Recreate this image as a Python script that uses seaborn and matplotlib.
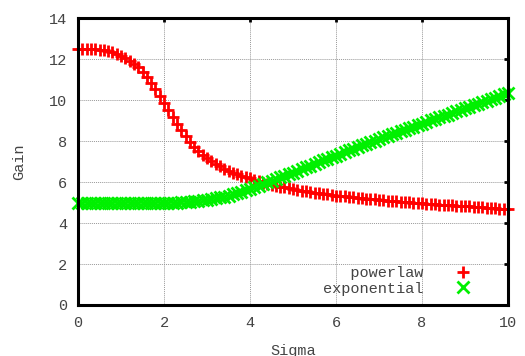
import matplotlib
matplotlib.use("Agg")
import matplotlib.pyplot as plt
import numpy as np
import pandas as pd
import seaborn as sns

# sigma from 0 to 10, one sample every 0.1
sigma = [round(i * 0.1, 1) for i in range(101)]

powerlaw = [
    12.52, 12.52, 12.51, 12.50, 12.48, 12.46, 12.43, 12.39, 12.33, 12.26,
    12.17, 12.06, 11.93, 11.78, 11.60, 11.38, 11.13, 10.85, 10.54, 10.21,
    9.86, 9.51, 9.17, 8.84, 8.53, 8.24, 7.97, 7.73, 7.51, 7.33,
    7.18, 7.03, 6.90, 6.78, 6.66, 6.56, 6.47, 6.39, 6.31, 6.24,
    6.18, 6.11, 6.04, 5.98, 5.92, 5.87, 5.82, 5.78, 5.74, 5.70,
    5.66, 5.62, 5.59, 5.55, 5.52, 5.49, 5.46, 5.43, 5.40, 5.37,
    5.34, 5.32, 5.30, 5.28, 5.26, 5.24, 5.22, 5.20, 5.18, 5.16,
    5.14, 5.12, 5.10, 5.08, 5.06, 5.05, 5.03, 5.01, 5.00, 4.98,
    4.96, 4.95, 4.93, 4.92, 4.90, 4.89, 4.88, 4.86, 4.85, 4.84,
    4.82, 4.81, 4.80, 4.78, 4.77, 4.75, 4.74, 4.72, 4.71, 4.69,
    4.68,
]

exponential = [
    4.97, 4.97, 4.97, 4.97, 4.97, 4.97, 4.97, 4.97, 4.97, 4.97,
    4.97, 4.97, 4.97, 4.97, 4.97, 4.97, 4.97, 4.97, 4.97, 4.97,
    4.97, 4.98, 4.99, 5.00, 5.01, 5.03, 5.05, 5.07, 5.09, 5.12,
    5.15, 5.18, 5.21, 5.25, 5.29, 5.34, 5.40, 5.46, 5.53, 5.60,
    5.67, 5.75, 5.83, 5.91, 5.99, 6.07, 6.15, 6.23, 6.31, 6.39,
    6.47, 6.55, 6.63, 6.72, 6.80, 6.89, 6.97, 7.06, 7.14, 7.22,
    7.30, 7.38, 7.46, 7.55, 7.63, 7.71, 7.79, 7.87, 7.95, 8.03,
    8.10, 8.18, 8.26, 8.33, 8.41, 8.48, 8.56, 8.63, 8.71, 8.78,
    8.86, 8.93, 9.01, 9.08, 9.16, 9.23, 9.30, 9.38, 9.45, 9.53,
    9.60, 9.68, 9.75, 9.83, 9.90, 9.98, 10.05, 10.13, 10.20, 10.28,
    10.36,
]

x_ticks = [0, 2, 4, 6, 8, 10]
y_ticks = [0, 2, 4, 6, 8, 10, 12, 14]

sns.set_style("white")
plt.rcParams["font.family"] = ["Liberation Mono", "DejaVu Sans Mono"]
plt.rcParams["font.size"] = 11

df = pd.DataFrame({"sigma": sigma, "powerlaw": powerlaw, "exponential": exponential})

fig = plt.figure(figsize=(5.25, 3.56), dpi=100)
ax = fig.add_axes([78 / 525, 1 - 305 / 356, 430 / 525, 286.7 / 356])

red, green = "#ff0000", "#00f000"
sns.lineplot(data=df, x="sigma", y="powerlaw", ax=ax, color=red,
             marker="+", linestyle="", markersize=9, mew=2, mec=red,
             label="   powerlaw", clip_on=False)
sns.lineplot(data=df, x="sigma", y="exponential", ax=ax, color=green,
             marker="x", linestyle="", markersize=8, mew=2, mec=green,
             label="exponential", clip_on=False)

ax.set_xlim(0, 10)
ax.set_ylim(0, 14)
ax.set_xticks(x_ticks)
ax.set_yticks(y_ticks)
ax.grid(True, color="#999999", linestyle=(0, (1, 1)), linewidth=0.7)
ax.set_axisbelow(True)
for sp in ax.spines.values():
    sp.set_linewidth(2.2)
    sp.set_color("black")
ax.tick_params(direction="in", length=3, width=2, color="black",
               top=True, right=True, labelcolor="#444444", labelsize=11, pad=8)

ax.set_xlabel("Sigma", color="#444444", fontsize=11, labelpad=10)
ax.set_ylabel("Gain", color="#444444", fontsize=11, labelpad=16)

leg = ax.legend(loc="lower right", frameon=False, markerfirst=False,
                handletextpad=1.8, handlelength=1.6, labelspacing=0.1,
                borderaxespad=0.2, bbox_to_anchor=(0.945, 0.0), fontsize=11)
for t in leg.get_texts():
    t.set_color("#444444")
for h in leg.legend_handles:
    h.set_markersize(8)

fig.savefig("out.png", dpi=100)
